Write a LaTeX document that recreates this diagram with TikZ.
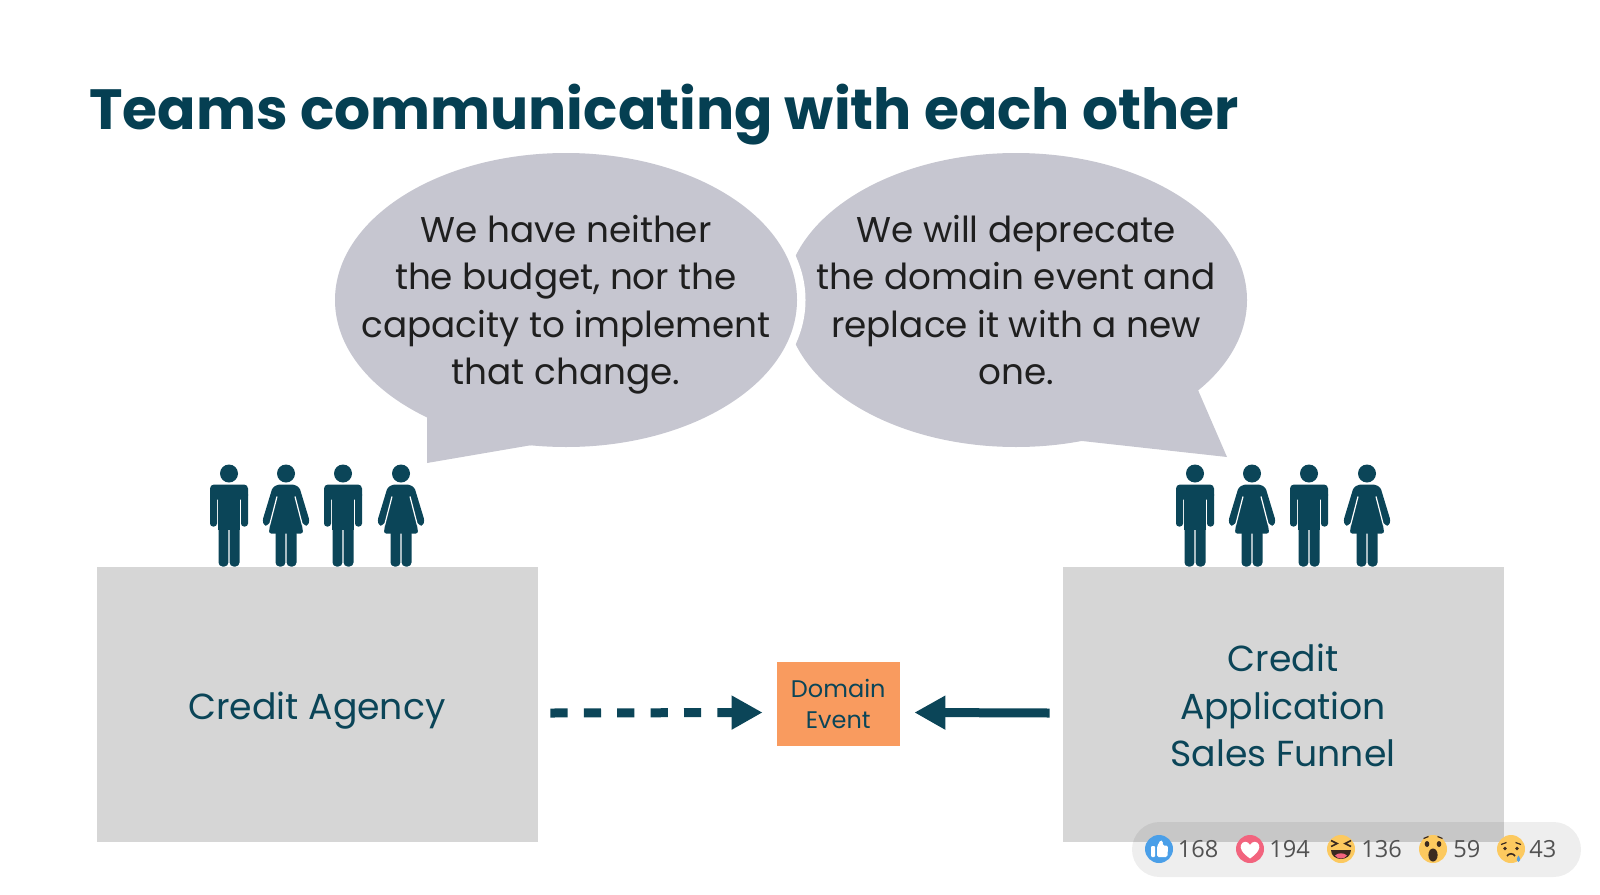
\documentclass[tikz,border=0pt]{standalone}
\usepackage{fontspec}
\setmainfont{Poppins}
\newfontfamily\countfont{Open Sans}
\usetikzlibrary{arrows.meta}
\definecolor{ink}{HTML}{0B4558}
\definecolor{titleink}{HTML}{053F52}
\definecolor{bubble}{HTML}{C6C6D0}
\definecolor{boxgrey}{HTML}{D6D6D6}
\definecolor{orangebox}{HTML}{F99B5F}
\definecolor{emoji}{HTML}{FCC95F}
\definecolor{emojidark}{HTML}{3A2A20}
\definecolor{likeblue}{HTML}{4A9FE8}
\definecolor{lovepink}{HTML}{F2647E}
\definecolor{tearblue}{HTML}{5AA0DC}
\tikzset{
  bubblefill/.style={fill=bubble},
  bubbletext/.style={align=center,text=black!88,font=\fontsize{17.9}{23.75}\selectfont,inner sep=0pt},
  teambox/.style={fill=boxgrey,minimum width=220.5pt,minimum height=137.5pt,inner sep=0pt},
  teamtext/.style={inner sep=0pt,align=center,text=ink,font=\fontsize{18.1}{23.75}\selectfont},
  eventbox/.style={fill=orangebox,minimum width=61.75pt,minimum height=42pt,inner sep=0pt,align=center,text=ink,font=\fontsize{12}{15.5}\selectfont},
  flow/.style={draw=ink,line width=4.5pt,-{Triangle[length=15.5pt,width=16pt]}},
  countlabel/.style={anchor=west,inner sep=0pt,text=black!68,font=\countfont\fontsize{11.8}{14}\selectfont},
  man/.pic={
    \fill[ink] (0,0) circle [radius=9];
    \fill[ink,rounded corners=2pt] (-19,11) rectangle (19,26);
    \fill[ink,rounded corners=1.5pt] (-19,18) rectangle (-12,53);
    \fill[ink,rounded corners=1.5pt] (12,18) rectangle (19,53);
    \fill[ink] (-10.8,18) rectangle (10.8,56);
    \fill[ink,rounded corners=2pt] (-10.5,48) rectangle (-0.6,93);
    \fill[ink,rounded corners=2pt] (0.6,48) rectangle (10.5,93);
  },
  woman/.pic={
    \fill[ink] (0,0) circle [radius=9];
    \fill[ink,rounded corners=1.2pt] (-8,11) -- (8,11) -- (13.5,14) -- (23.5,47) -- (22,52) -- (18.5,52) -- (15.5,48) -- (17.2,60) -- (-17.2,60) -- (-15.5,48) -- (-18.5,52) -- (-22,52) -- (-23.5,47) -- (-13.5,14) -- cycle;
    \draw[white,line width=0.6pt] (9,23) -- (16.5,52);
    \draw[white,line width=0.6pt] (-9,23) -- (-16.5,52);
    \fill[ink,rounded corners=2pt] (-10.5,56) rectangle (-0.6,93);
    \fill[ink,rounded corners=2pt] (0.6,56) rectangle (10.5,93);
  },
}
\begin{document}
\begin{tikzpicture}[x=0.5pt,y=-0.5pt]
\useasboundingbox (0,0) rectangle (1600,894);
% right speech bubble, cut by a white margin round the left one
\fill[bubblefill] (1016,300) ellipse [x radius=231,y radius=147];
\fill[bubblefill] (1198,390) -- (1227,457) -- (1073,440) -- cycle;
\fill[white] (566,300) ellipse [x radius=239.5,y radius=155];
% left speech bubble
\fill[bubblefill] (566,300) ellipse [x radius=231,y radius=147];
\fill[bubblefill] (400,402) -- (427,415) -- (427,463) -- (532,445) -- cycle;
% title
\node[anchor=west,inner sep=0pt,text=titleink,font=\fontsize{28.35}{32}\selectfont\bfseries] (title) at (89,115) {Teams communicating with each other};
\node[bubbletext] (leftsay) at (566,304.5) {We have neither\\the budget, nor the\\capacity to implement\\that change.};
\node[bubbletext] (rightsay) at (1016,304.5) {We will deprecate\\the domain event and\\replace it with a new\\one.\vphantom{g}};
% boxes
\node[teambox] (agency) at (317,704.5) {};
\node[teambox] (funnel) at (1283,704.5) {};
\node[teamtext] (agencyname) at (317,711) {Credit Agency};
\node[teamtext] (funnelname) at (1283,705.5) {Credit\\Application\\Sales Funnel};
\node[eventbox] (event) at (838.25,704) {Domain\\Event};
% connectors
\draw[flow,dash pattern=on 8.6pt off 8.1pt] ([xshift=6.25pt,yshift=-4.25pt]agency.east) -- ([xshift=-6.75pt,yshift=-4.25pt]event.west);
\draw[flow] ([xshift=-6.25pt,yshift=-4.25pt]funnel.west) -- ([xshift=7pt,yshift=-4.25pt]event.east);
% people
\pic at (229,473.5) {man};
\pic at (286,473.5) {woman};
\pic at (343,473.5) {man};
\pic at (401,473.5) {woman};
\pic at (1195,473.5) {man};
\pic at (1252,473.5) {woman};
\pic at (1309,473.5) {man};
\pic at (1367,473.5) {woman};
% reactions bar
\fill[black,opacity=0.067,rounded corners=13.75pt] (1132,822) rectangle (1581,877);
% like
\fill[likeblue] (1159,849) circle [radius=14];
\fill[white,rounded corners=0.5pt] (1151,846) rectangle (1155,857);
\fill[white,rounded corners=0.8pt] (1157,846.5) -- (1160.5,840) -- (1163,841) -- (1162.5,845.5) -- (1168,845.5) -- (1167.5,857) -- (1157,857) -- cycle;
% love
\fill[lovepink] (1250,849) circle [radius=14];
\fill[white] (1250,858.5) .. controls (1241,852) and (1240,848) .. (1241,845) .. controls (1242,841) and (1248,840.5) .. (1250,845) .. controls (1252,840.5) and (1258,841) .. (1259,845) .. controls (1260,848) and (1259,852) .. (1250,858.5) -- cycle;
% haha
\fill[emoji] (1341,849) circle [radius=14];
\draw[emojidark,line width=0.8pt] (1331,840.5) -- (1337,843.5) -- (1331,846.5);
\draw[emojidark,line width=0.8pt] (1351,840.5) -- (1345,843.5) -- (1351,846.5);
\fill[emojidark] (1331,849.5) -- (1351,849.5) .. controls (1351,862) and (1331,862) .. (1331,849.5) -- cycle;
\fill[lovepink] (1335,855.5) .. controls (1338,852.5) and (1344,852.5) .. (1347,855.5) .. controls (1344,859.5) and (1338,859.5) .. (1335,855.5) -- cycle;
% wow
\fill[emoji] (1433,849) circle [radius=14];
\fill[emojidark] (1427,844) ellipse [x radius=2.3,y radius=3];
\fill[emojidark] (1439,844) ellipse [x radius=2.3,y radius=3];
\draw[emojidark,line width=0.6pt] (1423.5,838.5) -- (1428.5,836.5);
\draw[emojidark,line width=0.6pt] (1442.5,838.5) -- (1437.5,836.5);
\fill[emojidark] (1433,855) ellipse [x radius=4.6,y radius=6.5];
% sad
\fill[emoji] (1511,849) circle [radius=14];
\fill[emojidark] (1505,848.5) circle [radius=1.8];
\fill[emojidark] (1517,848.5) circle [radius=1.8];
\draw[emojidark,line width=0.6pt] (1501,844.5) -- (1506.5,842.5);
\draw[emojidark,line width=0.6pt] (1521,844.5) -- (1515.5,842.5);
\draw[emojidark,line width=0.8pt] (1507,856) .. controls (1509,853) and (1513,853) .. (1515,856);
\fill[tearblue] (1518.5,855.5) .. controls (1516,859) and (1516.5,862) .. (1518.5,862) .. controls (1520.5,862) and (1521,859) .. (1518.5,855.5) -- cycle;
% counts
\node[countlabel] (likes) at (1177.5,849) {168};
\node[countlabel] (loves) at (1269,849) {194};
\node[countlabel] (hahas) at (1361,849) {136};
\node[countlabel] (wows) at (1453,849) {59};
\node[countlabel] (sads) at (1529,849) {43};
\end{tikzpicture}
\end{document}
